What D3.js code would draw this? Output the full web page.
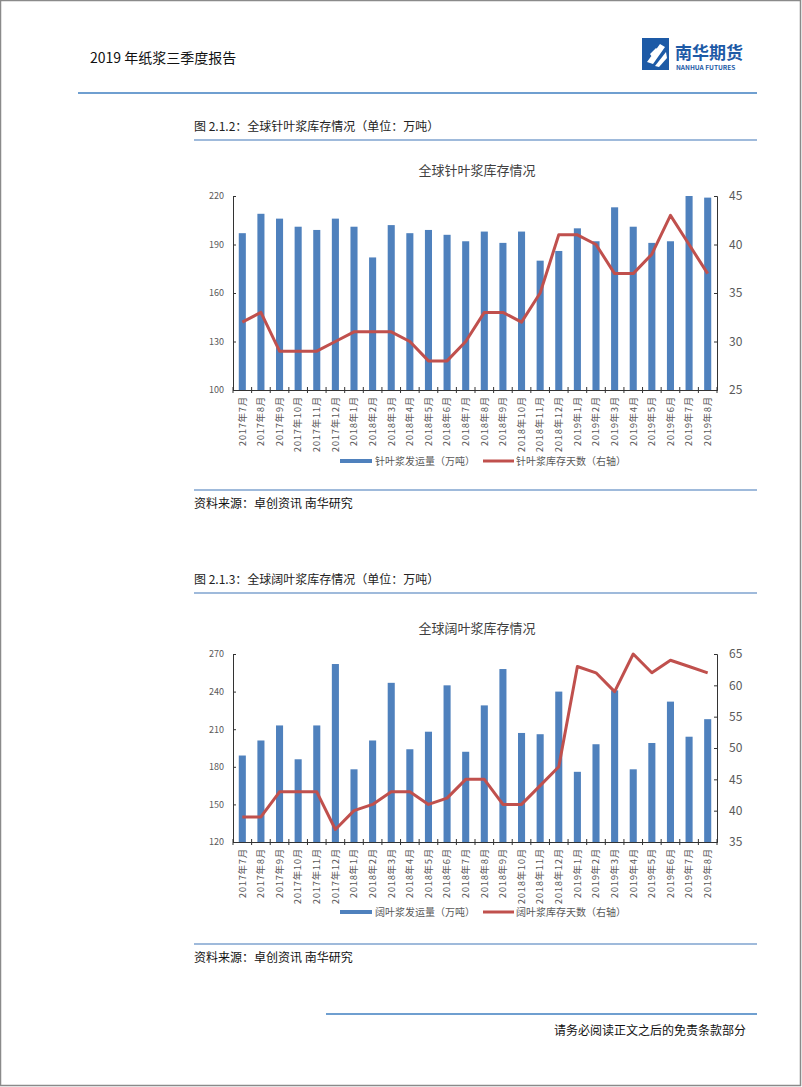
<!DOCTYPE html>
<html><head><meta charset="utf-8">
<script src="https://cdn.jsdelivr.net/npm/d3@7"></script>
<style>
html,body{margin:0;padding:0;background:#fff;}
svg{display:block;}
text{font-family:"Noto Sans CJK SC","Noto Sans",sans-serif;}
</style></head>
<body>
<svg id="page" width="802" height="1087"></svg>
<script>
const months = ["2017年7月","2017年8月","2017年9月","2017年10月","2017年11月","2017年12月",
"2018年1月","2018年2月","2018年3月","2018年4月","2018年5月","2018年6月","2018年7月","2018年8月",
"2018年9月","2018年10月","2018年11月","2018年12月","2019年1月","2019年2月","2019年3月","2019年4月",
"2019年5月","2019年6月","2019年7月","2019年8月"];

// Chart 1: softwood (针叶浆)
const softShip = [197,209,206,201,199,206,201,182,202,197,199,196,192,198,191,198,180,186,200,192,213,201,191,192,220,219];
const softDays = [32,33,29,29,29,30,31,31,31,30,28,28,30,33,33,32,35,41,41,40,37,37,39,43,40,37];
const softLeftTicks = [100,130,160,190,220];
const softRightTicks = [25,30,35,40,45];

// Chart 2: hardwood (阔叶浆)
const hardShip = [189,201,213,186,213,262,178,201,247,194,208,245,192,229,258,207,206,240,176,198,241,178,199,232,204,218];
const hardDays = [39,39,43,43,43,37,40,41,43,43,41,42,45,45,41,41,44,47,63,62,59,65,62,64,63,62];
const hardLeftTicks = [120,150,180,210,240,270];
const hardRightTicks = [35,40,45,50,55,60,65];

const BLUE = "#4f81bd", RED = "#c0504d", GRAY = "#595959", RULE = "#7fa3cf";
const svg = d3.select("#page");

// page border
svg.append("rect").attr("x",0.5).attr("y",0.5).attr("width",800).attr("height",1085)
  .attr("fill","none").attr("stroke","#8a8a8a").attr("stroke-width",1.5);

// header
svg.append("text").attr("x",90).attr("y",63).attr("font-size",14).attr("fill","#111")
  .text("2019 年纸浆三季度报告");
svg.append("line").attr("x1",78).attr("x2",757).attr("y1",93).attr("y2",93)
  .attr("stroke","#3f7fc1").attr("stroke-width",1.5);
// logo
const logo = svg.append("g");
logo.append("rect").attr("x",642).attr("y",38).attr("width",27).attr("height",32).attr("fill","#1d5aa6");
logo.append("path").attr("d","M647,62 L660,44 L665,47 L653,64 Z M650,54 L656,48 L658,50 L652,57 Z")
  .attr("fill","#fff");
logo.append("path").attr("d","M655,66 L666,52 L667,58 L659,67 Z").attr("fill","#fff");
logo.append("text").attr("x",675).attr("y",59).attr("font-size",17).attr("font-weight","bold")
  .attr("fill","#1d5aa6").text("南华期货");
logo.append("text").attr("x",676).attr("y",70).attr("font-size",6.5).attr("font-weight","bold")
  .attr("font-family","'Liberation Sans',Arial,sans-serif").attr("fill","#1d5aa6").text("NANHUA FUTURES");

// footer
svg.append("line").attr("x1",326).attr("x2",757).attr("y1",1014).attr("y2",1014)
  .attr("stroke","#3f7fc1").attr("stroke-width",1.5);
svg.append("text").attr("x",746).attr("y",1035).attr("text-anchor","end").attr("font-size",12)
  .attr("fill","#111").text("请务必阅读正文之后的免责条款部分");

function drawChart(cfg){
  const g = svg.append("g");
  // caption
  g.append("text").attr("x",194).attr("y",cfg.capY).attr("font-size",12).attr("fill","#222").text(cfg.caption);
  g.append("line").attr("x1",194).attr("x2",757).attr("y1",cfg.capY+9).attr("y2",cfg.capY+9)
    .attr("stroke",RULE).attr("stroke-width",1.3);
  // title
  g.append("text").attr("x",477).attr("y",cfg.titleY).attr("text-anchor","middle").attr("font-size",13)
    .attr("fill","#404040").text(cfg.title);

  const x = d3.scaleBand().domain(months).range([233,717]).paddingInner(0.62).paddingOuter(0.31);
  const step = x.step();
  const yL = d3.scaleLinear().domain(cfg.leftDomain).range([cfg.bottom,cfg.top]);
  const yR = d3.scaleLinear().domain(cfg.rightDomain).range([cfg.bottom,cfg.top]);

  // bars
  g.selectAll(".bar").data(cfg.ship).enter().append("rect")
    .attr("x",(d,i)=>x(months[i])).attr("width",x.bandwidth())
    .attr("y",d=>yL(d)).attr("height",d=>cfg.bottom-yL(d)).attr("fill",BLUE);

  // left axis
  const axL = g.append("g").attr("transform",`translate(233,0)`)
    .call(d3.axisLeft(yL).tickValues(cfg.leftTicks).tickSize(-3).tickPadding(9));
  axL.select(".domain").attr("stroke","#333");
  axL.selectAll(".tick line").attr("stroke","#333");
  axL.selectAll("text").attr("font-size",9).attr("fill",GRAY).attr("font-family","'DejaVu Sans',sans-serif");

  // right axis
  const axR = g.append("g").attr("transform",`translate(717,0)`)
    .call(d3.axisRight(yR).tickValues(cfg.rightTicks).tickSize(-3).tickPadding(12));
  axR.select(".domain").attr("stroke","#333");
  axR.selectAll(".tick line").attr("stroke","#333");
  axR.selectAll("text").attr("font-size",12).attr("fill",GRAY).attr("font-family","'DejaVu Sans',sans-serif");

  // x axis
  const axX = g.append("g").attr("transform",`translate(0,${cfg.bottom})`)
    .call(d3.axisBottom(x).tickSize(0).tickPadding(4));
  axX.select(".domain").attr("stroke","#333");
  axX.selectAll(".tick text").attr("font-size",9.5).attr("fill",GRAY)
    .attr("letter-spacing","0.7px")
    .attr("transform","rotate(-90)").attr("text-anchor","end")
    .attr("x",-6).attr("y",0).attr("dy","0.35em");
  // category boundary ticks
  const bounds = d3.range(months.length+1).map(i=>233+i*step);
  g.selectAll(".bt").data(bounds).enter().append("line")
    .attr("x1",d=>d).attr("x2",d=>d).attr("y1",cfg.bottom-3).attr("y2",cfg.bottom+3)
    .attr("stroke","#333");

  // line
  const line = d3.line().x((d,i)=>x(months[i])+x.bandwidth()/2).y(d=>yR(d));
  g.append("path").datum(cfg.days).attr("d",line).attr("fill","none")
    .attr("stroke",RED).attr("stroke-width",3).attr("stroke-linejoin","round");

  // legend
  const ly = cfg.legendY;
  g.append("rect").attr("x",340).attr("y",ly-2).attr("width",32).attr("height",4).attr("fill",BLUE);
  g.append("text").attr("x",375).attr("y",ly+4).attr("font-size",10).attr("fill",GRAY).text(cfg.leg1);
  g.append("line").attr("x1",483).attr("x2",514).attr("y1",ly).attr("y2",ly).attr("stroke",RED).attr("stroke-width",3);
  g.append("text").attr("x",516).attr("y",ly+4).attr("font-size",10).attr("fill",GRAY).text(cfg.leg2);

  // source
  g.append("line").attr("x1",194).attr("x2",757).attr("y1",cfg.srcLineY).attr("y2",cfg.srcLineY)
    .attr("stroke",RULE).attr("stroke-width",1.3);
  g.append("text").attr("x",194).attr("y",cfg.srcLineY+18).attr("font-size",12).attr("fill","#111")
    .text("资料来源：卓创资讯 南华研究");
}

drawChart({
  caption:"图 2.1.2：全球针叶浆库存情况（单位：万吨）", capY:131,
  title:"全球针叶浆库存情况", titleY:175,
  top:196, bottom:390,
  leftDomain:[100,220], rightDomain:[25,45],
  leftTicks:softLeftTicks, rightTicks:softRightTicks,
  ship:softShip, days:softDays,
  legendY:461, leg1:"针叶浆发运量（万吨）", leg2:"针叶浆库存天数（右轴）",
  srcLineY:490
});
drawChart({
  caption:"图 2.1.3：全球阔叶浆库存情况（单位：万吨）", capY:584,
  title:"全球阔叶浆库存情况", titleY:633,
  top:654, bottom:842,
  leftDomain:[120,270], rightDomain:[35,65],
  leftTicks:hardLeftTicks, rightTicks:hardRightTicks,
  ship:hardShip, days:hardDays,
  legendY:912, leg1:"阔叶浆发运量（万吨）", leg2:"阔叶浆库存天数（右轴）",
  srcLineY:944
});
</script>
</body></html>
